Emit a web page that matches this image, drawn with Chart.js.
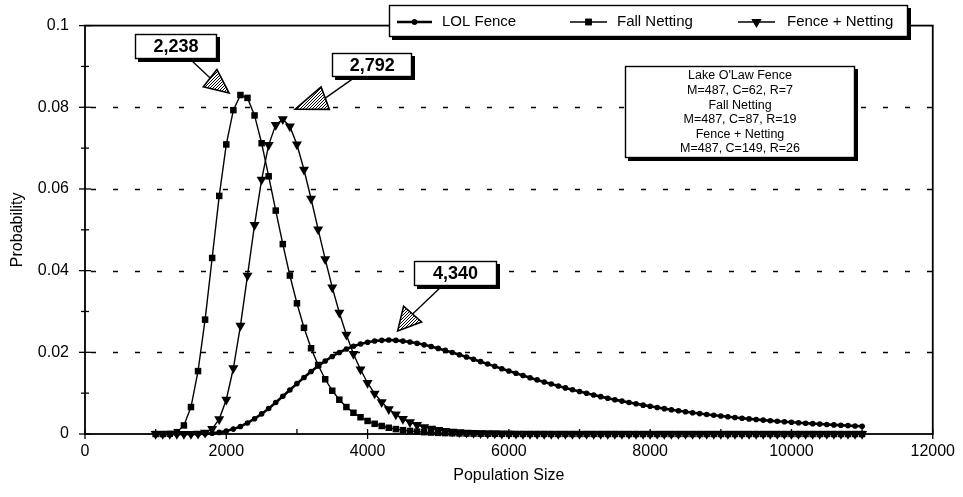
<!DOCTYPE html>
<html>
<head>
<meta charset="utf-8">
<script src="https://cdn.jsdelivr.net/npm/chart.js@4.4.1/dist/chart.umd.min.js"></script>
<style>
  html, body { margin: 0; padding: 0; background: #fff; }
  #wrap { width: 963px; height: 497px; }
</style>
</head>
<body>
<div id="wrap"><canvas id="chart" width="963" height="497"></canvas></div>
<script>
const FONT = "'Liberation Sans', Arial, Helvetica, sans-serif";

// Population sizes evaluated (N), step 100
const populationSize = [
  1000, 1100, 1200, 1300, 1400, 1500, 1600, 1700, 1800, 1900,
  2000, 2100, 2200, 2300, 2400, 2500, 2600, 2700, 2800, 2900,
  3000, 3100, 3200, 3300, 3400, 3500, 3600, 3700, 3800, 3900,
  4000, 4100, 4200, 4300, 4400, 4500, 4600, 4700, 4800, 4900,
  5000, 5100, 5200, 5300, 5400, 5500, 5600, 5700, 5800, 5900,
  6000, 6100, 6200, 6300, 6400, 6500, 6600, 6700, 6800, 6900,
  7000, 7100, 7200, 7300, 7400, 7500, 7600, 7700, 7800, 7900,
  8000, 8100, 8200, 8300, 8400, 8500, 8600, 8700, 8800, 8900,
  9000, 9100, 9200, 9300, 9400, 9500, 9600, 9700, 9800, 9900,
  10000, 10100, 10200, 10300, 10400, 10500, 10600, 10700, 10800, 10900,
  11000
];

// Probability of each N, Lake O'Law fence sample
const lolFence = [
  0, 0, 0, 0, 0.000002, 0.000009, 0.00003, 0.00008, 0.00019, 0.00039,
  0.00072, 0.0012, 0.00185, 0.0027, 0.00373, 0.00492, 0.00626, 0.00771, 0.00923, 0.01079,
  0.01234, 0.01385, 0.0153, 0.01664, 0.01788, 0.01899, 0.01996, 0.0208, 0.02149, 0.02204,
  0.02246, 0.02276, 0.02293, 0.023, 0.02292, 0.02275, 0.02251, 0.0222, 0.02183, 0.02141,
  0.02096, 0.02047, 0.01995, 0.01941, 0.01885, 0.01829, 0.01771, 0.01714, 0.01656, 0.01599,
  0.01543, 0.01487, 0.01432, 0.01378, 0.01325, 0.01274, 0.01224, 0.01176, 0.01129, 0.01083,
  0.01039, 0.00996, 0.00955, 0.00915, 0.00877, 0.0084, 0.00805, 0.00771, 0.00739, 0.00707,
  0.00678, 0.00649, 0.00621, 0.00595, 0.0057, 0.00546, 0.00522, 0.005, 0.00479, 0.00459,
  0.00439, 0.00421, 0.00403, 0.00386, 0.0037, 0.00354, 0.0034, 0.00325, 0.00312, 0.00299,
  0.00287, 0.00275, 0.00264, 0.00253, 0.00243, 0.00233, 0.00223, 0.00214, 0.00206, 0.00197,
  0.0019
];

// Probability of each N, fall netting sample
const fallNetting = [
  0, 0.000003, 0.00005, 0.00045, 0.0021, 0.0066, 0.0154, 0.028, 0.0431, 0.0583,
  0.0709, 0.0793, 0.083, 0.0823, 0.078, 0.0712, 0.0631, 0.0547, 0.0465, 0.0388,
  0.032, 0.026, 0.021, 0.0169, 0.0134, 0.0106, 0.0084, 0.0066, 0.0052, 0.0041,
  0.0032, 0.0025, 0.00196, 0.00153, 0.0012, 0.00094, 0.00074, 0.00058, 0.00045, 0.00036,
  0.00028, 0.00022, 0.00018, 0.00014, 0.00011, 0.00009, 0.00007, 0.00006, 0.00005, 0.00004,
  0.00003, 0.00002, 0.00002, 0.00002, 0.00002, 0.00002, 0.00001, 0.00001, 0.00001, 0.00001,
  0.00001, 0.00001, 0.00001, 0.00001, 0.00001, 0.00001, 0, 0, 0, 0,
  0, 0, 0, 0, 0, 0, 0, 0, 0, 0,
  0, 0, 0, 0, 0, 0, 0, 0, 0, 0,
  0, 0, 0, 0, 0, 0, 0, 0, 0, 0,
  0
];

// Probability of each N, fence and netting combined
const fenceNetting = [
  0, 0, 0, 0, 0, 0.000007, 0.00006, 0.00033, 0.00127, 0.00365,
  0.0084, 0.0161, 0.0265, 0.0388, 0.0512, 0.0623, 0.0708, 0.0757, 0.0771, 0.0753,
  0.0709, 0.0647, 0.0576, 0.0501, 0.0428, 0.0359, 0.0297, 0.0243, 0.0196, 0.0158,
  0.0125, 0.0099, 0.0078, 0.0061, 0.0048, 0.0037, 0.0029, 0.0022, 0.0017, 0.0013,
  0.001, 0.00078, 0.0006, 0.00046, 0.00035, 0.00027, 0.00021, 0.00016, 0.00012, 0.00009,
  0.00007, 0.00005, 0.00004, 0.00003, 0.00002, 0.00002, 0.00001, 0.00001, 0.00001, 0.00001,
  0.00001, 0, 0, 0, 0, 0, 0, 0, 0, 0,
  0, 0, 0, 0, 0, 0, 0, 0, 0, 0,
  0, 0, 0, 0, 0, 0, 0, 0, 0, 0,
  0, 0, 0, 0, 0, 0, 0, 0, 0, 0,
  0
];

const seriesNames = ['LOL Fence', 'Fall Netting', 'Fence + Netting'];
const xTickValues = [0, 2000, 4000, 6000, 8000, 10000, 12000];
const yTickValues = [0, 0.02, 0.04, 0.06, 0.08, 0.1];

// Most likely population size for each sample
const estimateLabels = ['2,238', '2,792', '4,340'];
const estimateValues = [2238, 2792, 4340];

const studyNotes = [
  "Lake O'Law Fence", 'M=487, C=62, R=7',
  'Fall Netting', 'M=487, C=87, R=19',
  'Fence + Netting', 'M=487, C=149, R=26'
];

const seriesValues = [lolFence, fallNetting, fenceNetting];
const toPoints = ys => populationSize.map((x, i) => ({ x, y: ys[i] }));

const markerStyles = [
  { pointStyle: 'circle', radius: 2.8, rotation: 0 },
  { pointStyle: 'rect', radius: 4.6, rotation: 0 },
  { pointStyle: 'triangle', radius: 5.8, rotation: 180 }
];
const lineWidths = [2.6, 1.4, 1.4];

// Callout geometry: which series each estimate points at, arrow and box offsets
const calloutLayout = [
  { series: 1, tip: [-14, -2], base: [-19, -15], half: 11, box: [-67, -49], w: 82, h: 25 },
  { series: 2, tip: [13, -10], base: [30, -11], half: 12, box: [90, -54], w: 80, h: 24 },
  { series: 0, tip: [6, -9], base: [15, -17], half: 12, box: [64, -67], w: 83, h: 25 }
];

function line(ctx, x1, y1, x2, y2) {
  ctx.beginPath(); ctx.moveTo(x1, y1); ctx.lineTo(x2, y2); ctx.stroke();
}

function shadowBox(ctx, x, y, w, h, off) {
  ctx.fillStyle = '#000';
  ctx.fillRect(x + off, y + off, w, h);
  ctx.fillStyle = '#fff';
  ctx.fillRect(x, y, w, h);
  ctx.lineWidth = 1.4;
  ctx.strokeStyle = '#000';
  ctx.strokeRect(x + 0.5, y + 0.5, w - 1, h - 1);
}

function stipplePattern(ctx) {
  const c = document.createElement('canvas');
  c.width = 3; c.height = 3;
  const g = c.getContext('2d');
  g.fillStyle = '#fff'; g.fillRect(0, 0, 3, 3);
  g.fillStyle = '#000';
  [[0, 0], [1, 2], [2, 1]].forEach(([a, b]) => g.fillRect(a, b, 1, 1));
  return ctx.createPattern(c, 'repeat');
}

const framePlugin = {
  id: 'frame',
  beforeDatasetsDraw(chart) {
    const { ctx, chartArea: a, scales: { x, y } } = chart;
    ctx.save();
    // dashed horizontal gridlines
    ctx.strokeStyle = '#000';
    ctx.lineWidth = 1.4;
    ctx.setLineDash([5, 17]);
    yTickValues.forEach(v => {
      if (v <= 0 || v >= 0.1) return;
      const py = Math.round(y.getPixelForValue(v)) + 0.5;
      line(ctx, a.left + 6, py, a.right, py);
    });
    ctx.setLineDash([]);
    // plot frame
    ctx.lineWidth = 1.8;
    ctx.strokeRect(a.left, a.top, a.right - a.left, a.bottom - a.top);
    // y ticks: majors every 0.02, minors halfway
    ctx.lineWidth = 1.3;
    yTickValues.forEach((v, i) => {
      const py = y.getPixelForValue(v);
      line(ctx, a.left - 6, py, a.left + 6, py);
      if (i < yTickValues.length - 1) {
        const pm = y.getPixelForValue((v + yTickValues[i + 1]) / 2);
        line(ctx, a.left - 4, pm, a.left + 4, pm);
      }
    });
    // x ticks
    xTickValues.forEach((v, i) => {
      const px = x.getPixelForValue(v);
      line(ctx, px, a.bottom - 5, px, a.bottom + 5);
      if (i < xTickValues.length - 1) {
        const pm = x.getPixelForValue((v + xTickValues[i + 1]) / 2);
        line(ctx, pm, a.bottom - 5, pm, a.bottom);
      }
    });
    ctx.restore();
  },
  afterDatasetsDraw(chart) {
    const { ctx, scales: { x, y } } = chart;
    ctx.save();

    // legend
    const lx = 389, ly = 5, lw = 519, lh = 32;
    shadowBox(ctx, lx, ly, lw, lh, 3);
    const legendItems = [
      { x0: 397, x1: 432, tx: 442 },
      { x0: 570, x1: 607, tx: 617 },
      { x0: 738, x1: 775, tx: 787 }
    ];
    ctx.font = '15px ' + FONT;
    ctx.textBaseline = 'middle';
    ctx.textAlign = 'left';
    legendItems.forEach((it, i) => {
      const cy = ly + lh / 2 + 1;
      ctx.strokeStyle = '#000';
      ctx.lineWidth = lineWidths[i];
      line(ctx, it.x0, cy, it.x1, cy);
      ctx.fillStyle = '#000';
      Chart.helpers.drawPoint(ctx, {
        pointStyle: markerStyles[i].pointStyle,
        radius: markerStyles[i].radius,
        rotation: markerStyles[i].rotation,
        borderWidth: 0
      }, (it.x0 + it.x1) / 2, cy);
      ctx.fill();
      ctx.fillStyle = '#000';
      ctx.fillText(seriesNames[i], it.tx, cy);
    });

    // sample notes box
    shadowBox(ctx, 625, 66, 230, 92, 3);
    ctx.font = '12.5px ' + FONT;
    ctx.textAlign = 'center';
    ctx.fillStyle = '#000';
    studyNotes.forEach((t, i) => ctx.fillText(t, 740, 76 + i * 14.6));

    // estimate callouts
    const pattern = stipplePattern(ctx);
    calloutLayout.forEach((c, i) => {
      const ax = x.getPixelForValue(estimateValues[i]);
      const ay = y.getPixelForValue(Math.max(...seriesValues[c.series]));
      const tx = ax + c.tip[0], ty = ay + c.tip[1];
      const bx = tx + c.base[0], by = ty + c.base[1];
      const cx = ax + c.box[0], cy = ay + c.box[1];
      ctx.strokeStyle = '#000';
      ctx.lineWidth = 1.4;
      line(ctx, cx, cy, bx, by);
      const len = Math.hypot(tx - bx, ty - by);
      const nx = -(ty - by) / len, ny = (tx - bx) / len;
      ctx.beginPath();
      ctx.moveTo(tx, ty);
      ctx.lineTo(bx + nx * c.half, by + ny * c.half);
      ctx.lineTo(bx - nx * c.half, by - ny * c.half);
      ctx.closePath();
      ctx.fillStyle = pattern;
      ctx.fill();
      ctx.lineWidth = 1.6;
      ctx.stroke();
      shadowBox(ctx, Math.round(cx - c.w / 2), Math.round(cy - c.h / 2), c.w, c.h, 3);
      ctx.font = 'bold 18px ' + FONT;
      ctx.textAlign = 'center';
      ctx.textBaseline = 'middle';
      ctx.fillStyle = '#000';
      ctx.fillText(estimateLabels[i], cx, cy + 1);
    });
    ctx.restore();
  }
};

const datasets = seriesValues.map((vals, i) => ({
  label: seriesNames[i],
  data: toPoints(vals),
  borderColor: '#000',
  backgroundColor: '#000',
  borderWidth: lineWidths[i],
  pointStyle: markerStyles[i].pointStyle,
  pointRadius: markerStyles[i].radius,
  pointRotation: markerStyles[i].rotation,
  pointBorderWidth: 0,
  pointBackgroundColor: '#000',
  tension: 0,
  clip: false
}));

new Chart(document.getElementById('chart'), {
  type: 'line',
  data: { datasets },
  options: {
    responsive: false,
    animation: false,
    devicePixelRatio: 1,
    layout: { padding: { top: 24, right: 30, left: 0, bottom: 0 } },
    plugins: { legend: { display: false }, tooltip: { enabled: false } },
    scales: {
      x: {
        type: 'linear',
        min: 0, max: 12000,
        afterFit: s => { s.height = 63; },
        afterBuildTicks: s => { s.ticks = xTickValues.map(v => ({ value: v })); },
        grid: { display: false, drawTicks: false },
        border: { display: false },
        ticks: {
          padding: 8, color: '#000', maxRotation: 0,
          font: { family: FONT, size: 16 },
          callback: v => String(v)
        },
        title: {
          display: true, text: 'Population Size', color: '#000',
          font: { family: FONT, size: 16 }, padding: { top: 0, bottom: 12 }
        }
      },
      y: {
        type: 'linear',
        min: 0, max: 0.1,
        afterFit: s => { s.width = 85; },
        afterBuildTicks: s => { s.ticks = yTickValues.map(v => ({ value: v })); },
        grid: { display: false, drawTicks: false },
        border: { display: false },
        ticks: {
          padding: 16, color: '#000',
          font: { family: FONT, size: 16 },
          callback: v => String(+Number(v).toFixed(2))
        },
        title: {
          display: true, text: 'Probability', color: '#000',
          font: { family: FONT, size: 16 }, padding: { top: 8, bottom: 0 }
        }
      }
    }
  },
  plugins: [framePlugin]
});
</script>
</body>
</html>
